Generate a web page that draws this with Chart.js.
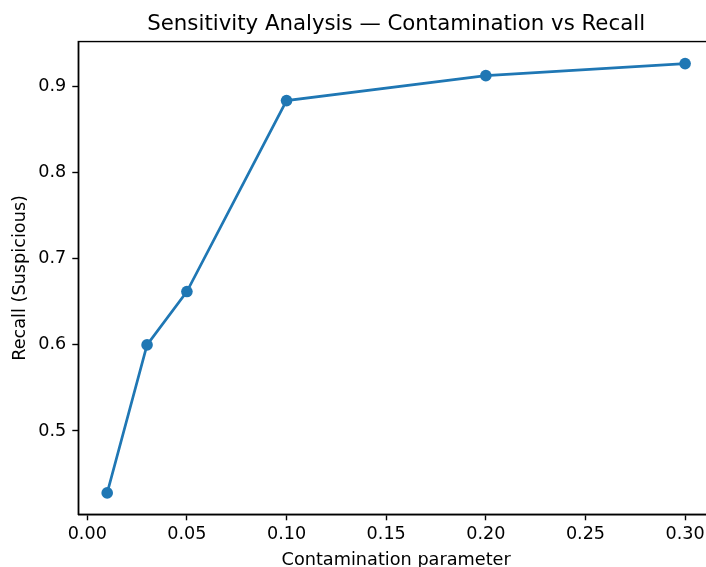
<!DOCTYPE html>
<html>
<head>
<meta charset="utf-8">
<script src="https://cdn.jsdelivr.net/npm/chart.js@4"></script>
<style>
	html, body { margin:0; padding:0; background:#fff; overflow:hidden; }
	#wrap { position:relative; width:730px; height:580px; }
</style>
</head>
<body>
<div id="wrap"><canvas id="chart"></canvas></div>
<script>
const contamination = [0.01, 0.03, 0.05, 0.10, 0.20, 0.30];
const recall = [0.428, 0.600, 0.662, 0.884, 0.913, 0.927];
const xTicks = [0.00, 0.05, 0.10, 0.15, 0.20, 0.25, 0.30];
const yTicks = [0.5, 0.6, 0.7, 0.8, 0.9];

const FONT = 'DejaVu Sans';
const blue = '#1f77b4';

// matplotlib-like box around the plot area, title centred over the axes
const frame = {
	id: 'frame',
	beforeDraw(chart) {
		const t = chart.titleBlock, a = chart.chartArea;
		if (t) { t.left = a.left; t.right = a.right; t.width = a.right - a.left; }
	},
	afterDraw(chart) {
		const {ctx, chartArea: a} = chart;
		ctx.save();
		ctx.strokeStyle = '#000';
		ctx.lineWidth = 1.4;
		ctx.strokeRect(a.left, a.top, a.right - a.left, a.bottom - a.top);
		ctx.restore();
	}
};

const axisStyle = {
	border: { display:true, color:'#000', width:1.4 },
	grid: { drawOnChartArea:false, drawTicks:true, tickLength:6, tickColor:'#000', tickWidth:1.4 },
};

new Chart(document.getElementById('chart'), {
	type: 'scatter',
	data: {
		datasets: [{
			data: contamination.map((c, i) => ({x:c, y:recall[i]})),
			showLine: true,
			borderColor: blue,
			backgroundColor: blue,
			borderWidth: 2.7,
			pointRadius: 5.8,
			pointBorderWidth: 0,
			pointHoverRadius: 5.8,
		}]
	},
	options: {
		responsive: true,
		maintainAspectRatio: false,
		animation: false,
		layout: { padding: { left:0, right:16, top:0, bottom:0 } },
		plugins: {
			legend: { display:false },
			tooltip: { enabled:false },
			title: {
				display: true,
				text: 'Sensitivity Analysis — Contamination vs Recall',
				color: '#000',
				font: { family:FONT, size:21.3, weight:'normal' },
				padding: { top:12, bottom:4 },
			}
		},
		scales: {
			x: {
				type: 'linear',
				min: -0.0045,
				max: 0.3145,
				...axisStyle,
				afterBuildTicks: s => { s.ticks = xTicks.map(v => ({value:v})); },
				afterFit: s => { s.height = 65.7; },
				ticks: {
					color: '#000',
					font: { family:FONT, size:17.6 },
					padding: 4,
					maxRotation: 0,
					callback: v => v.toFixed(2),
				},
				title: {
					display: true,
					text: 'Contamination parameter',
					color: '#000',
					font: { family:FONT, size:17.7 },
					padding: { top:0, bottom:9 },
				}
			},
			y: {
				type: 'linear',
				min: 0.4031,
				max: 0.9526,
				...axisStyle,
				afterBuildTicks: s => { s.ticks = yTicks.map(v => ({value:v})); },
				afterFit: s => { s.width = 78.3; },
				ticks: {
					color: '#000',
					font: { family:FONT, size:17.6 },
					padding: 6,
					callback: v => v.toFixed(1),
				},
				title: {
					display: true,
					text: 'Recall (Suspicious)',
					color: '#000',
					font: { family:FONT, size:17.7 },
					padding: { top:10, bottom:0 },
				}
			}
		}
	},
	plugins: [frame]
});
</script>
</body>
</html>
